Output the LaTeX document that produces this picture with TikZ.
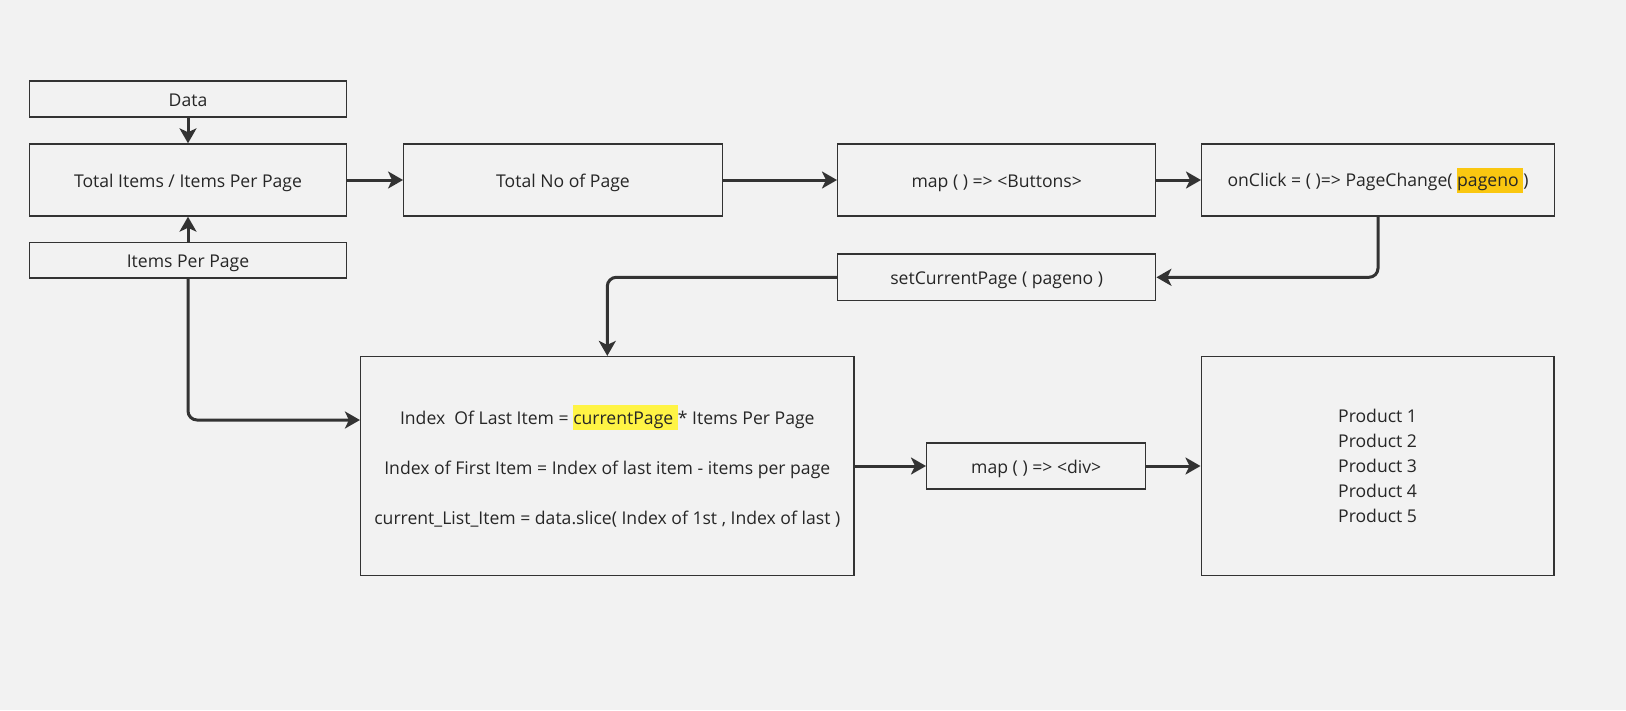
\documentclass[tikz,border=0pt]{standalone}
\usepackage{fontspec}
\setmainfont{Open Sans}
\usetikzlibrary{arrows.meta}
\definecolor{bg}{HTML}{F2F2F2}
\definecolor{ink}{HTML}{333333}
\definecolor{txt}{HTML}{262626}
\definecolor{hly}{HTML}{FFF445}
\definecolor{hlo}{HTML}{FAC710}
\newcommand{\hlmark}[2]{{\setlength{\fboxsep}{0pt}\colorbox{#1}{\rule[-6pt]{0pt}{25pt}#2}}}
\begin{document}
\begin{tikzpicture}[x=1pt,y=-1pt,
  box/.style={draw=ink, line width=1.4pt, fill=bg, inner sep=0pt, align=center, text=txt,
    font=\fontsize{17.6}{21}\selectfont},
  oneline/.style={text height=14pt, text depth=0pt},
  conn/.style={draw=ink, line width=3pt, -{Stealth[length=15pt,width=17pt,inset=4pt]},
    rounded corners=9pt}]
\fill[bg] (0,0) rectangle (1626,710);
\useasboundingbox (0,0) rectangle (1626,710);

\node[box, oneline, minimum width=317.4pt, minimum height=36pt] (data) at (188,99) {Data};
\node[box, oneline, minimum width=317.4pt, minimum height=72pt] (total) at (188,180) {Total Items / Items Per Page};
\node[box, oneline, minimum width=317.4pt, minimum height=35.3pt] (ipp) at (188,260.3) {Items Per Page};
\node[box, oneline, minimum width=318.5pt, minimum height=72pt] (tnp) at (563,180) {Total No of Page};
\node[box, oneline, minimum width=318pt, minimum height=72pt] (mapb) at (996.7,180) {map ( ) =\textgreater{} \textless{}Buttons\textgreater{}};
\node[box, minimum width=352.6pt, minimum height=72pt] (onclick) at (1378,180)
  {onClick = ( )=\textgreater{} PageChange( \hlmark{hlo}{pageno\ })};
\node[box, oneline, minimum width=318pt, minimum height=46.7pt] (scp) at (996.7,277.3) {setCurrentPage ( pageno )};
\node[box, minimum width=493.3pt, minimum height=218.8pt, font=\fontsize{17.6}{50}\selectfont] (big) at (607.3,466)
  {Index\ \ Of Last Item = \hlmark{hly}{currentPage\ }* Items Per Page\\
   Index of First Item = Index of last item - items per page\\
   current\_List\_Item = data.slice( Index of 1st , Index of last )};
\node[box, oneline, minimum width=219pt, minimum height=46pt] (mapd) at (1036.2,466) {map ( ) =\textgreater{} \textless{}div\textgreater{}};
\node[box, minimum width=352.8pt, minimum height=219pt, font=\fontsize{17.6}{25}\selectfont] (prod) at (1377.6,466)
  {Product 1\\Product 2\\Product 3\\Product 4\\Product 5};

\draw[conn] (data.south) -- (total.north);
\draw[conn] (ipp.north) -- (total.south);
\draw[conn] (total.east) -- (tnp.west);
\draw[conn] (tnp.east) -- (mapb.west);
\draw[conn] (mapb.east) -- (onclick.west);
\draw[conn] (onclick.south) |- (scp.east);
\draw[conn] (scp.west) -| (big.north);
\draw[conn] (ipp.south) |- ([yshift=46pt]big.west);
\draw[conn] (big.east) -- (mapd.west);
\draw[conn] (mapd.east) -- (prod.west);
\end{tikzpicture}
\end{document}
